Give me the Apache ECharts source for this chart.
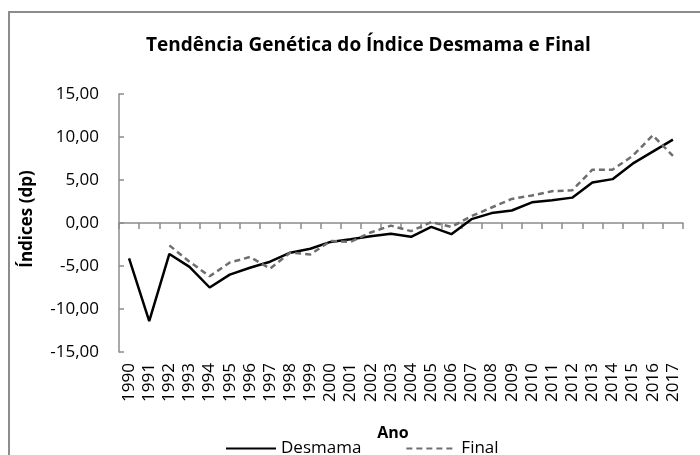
<!DOCTYPE html>
<html>
<head>
<meta charset="utf-8">
<script src="https://cdn.jsdelivr.net/npm/echarts@6/dist/echarts.min.js"></script>
<style>
  html, body { margin: 0; padding: 0; background: #fff; }
  #main { width: 700px; height: 455px; }
</style>
</head>
<body>
<div id="main"></div>
<script>
// anos e índices
var anos = ['1990','1991','1992','1993','1994','1995','1996','1997','1998','1999',
            '2000','2001','2002','2003','2004','2005','2006','2007','2008','2009',
            '2010','2011','2012','2013','2014','2015','2016','2017'];
var desmama = [-4.1, -11.4, -3.6, -5.1, -7.5, -6.0, -5.2, -4.5, -3.45, -3.0,
               -2.2, -1.9, -1.55, -1.25, -1.6, -0.45, -1.3, 0.45, 1.15, 1.45,
               2.4, 2.65, 2.95, 4.7, 5.1, 6.9, 8.3, 9.7];
var final = [null, null, -2.6, -4.5, -6.2, -4.6, -3.95, -5.3, -3.45, -3.65,
             -2.1, -2.2, -1.1, -0.3, -0.95, 0.1, -0.45, 0.8, 1.8, 2.8,
             3.2, 3.7, 3.8, 6.2, 6.2, 7.8, 10.2, 7.8];

var myChart = echarts.init(document.getElementById('main'));
var eixo = '#8c8c8c';
var fonte = 'Open Sans';

var option = {
    animation: false,
    textStyle: { fontFamily: fonte, color: '#000' },
    graphic: [{
        type: 'rect',
        shape: { x: 9, y: 12, width: 800, height: 600 },
        style: { fill: 'none', stroke: eixo, lineWidth: 2 },
        silent: true
    }],
    title: {
        text: 'Tendência Genética do Índice Desmama e Final',
        left: 141,
        top: 31,
        textStyle: { fontFamily: fonte, fontSize: 19, fontWeight: 'bold', color: '#000' }
    },
    legend: {
        left: 220,
        top: 435,
        itemWidth: 50,
        itemHeight: 12,
        itemGap: 44,
        itemStyle: { opacity: 0 },
        textStyle: { fontFamily: fonte, fontSize: 17, color: '#000' },
        data: ['Desmama', 'Final']
    },
    grid: { left: 119, right: 17, top: 94, bottom: 103 },
    xAxis: [{
        // eixo no zero: só linha e marcas
        type: 'category',
        data: anos,
        position: 'top',
        axisLine: { onZero: true, lineStyle: { color: eixo, width: 1.5 } },
        axisTick: { show: true, inside: true, length: 6, interval: 0, lineStyle: { color: eixo, width: 1.5 } },
        axisLabel: { show: false }
    }, {
        // eixo de baixo: rótulos e título
        type: 'category',
        data: anos,
        position: 'bottom',
        axisLine: { show: false, onZero: false },
        axisTick: { show: false },
        axisLabel: { interval: 0, rotate: 90, margin: 11, fontSize: 17, color: '#000', fontFamily: fonte },
        name: 'Ano',
        nameLocation: 'middle',
        nameGap: 73,
        nameTextStyle: { fontSize: 16, fontWeight: 'bold', color: '#000', fontFamily: fonte, padding: [0, 16, 0, 0] }
    }],
    yAxis: {
        type: 'value',
        min: -15,
        max: 15,
        interval: 5,
        splitLine: { show: false },
        axisLine: { show: true, lineStyle: { color: eixo, width: 1.5 } },
        axisTick: { show: true, inside: true, length: 5, lineStyle: { color: eixo, width: 1.5 } },
        axisLabel: {
            margin: 20,
            fontSize: 17,
            color: '#000',
            fontFamily: fonte,
            formatter: function (v) { return v.toFixed(2).replace('.', ','); }
        },
        name: 'Índices (dp)',
        nameLocation: 'middle',
        nameGap: 83,
        nameTextStyle: { fontSize: 17, fontWeight: 'bold', color: '#000', fontFamily: fonte, padding: [0, 0, 0, 8] }
    },
    series: [{
        name: 'Desmama',
        type: 'line',
        data: desmama,
        symbol: 'none',
        lineStyle: { color: '#000', width: 2.5 },
        itemStyle: { color: '#000' }
    }, {
        name: 'Final',
        type: 'line',
        data: final,
        symbol: 'none',
        lineStyle: { color: '#6e6e6e', width: 2.5, type: [6, 4] },
        itemStyle: { color: '#6e6e6e' }
    }]
};
myChart.setOption(option);
</script>
</body>
</html>
